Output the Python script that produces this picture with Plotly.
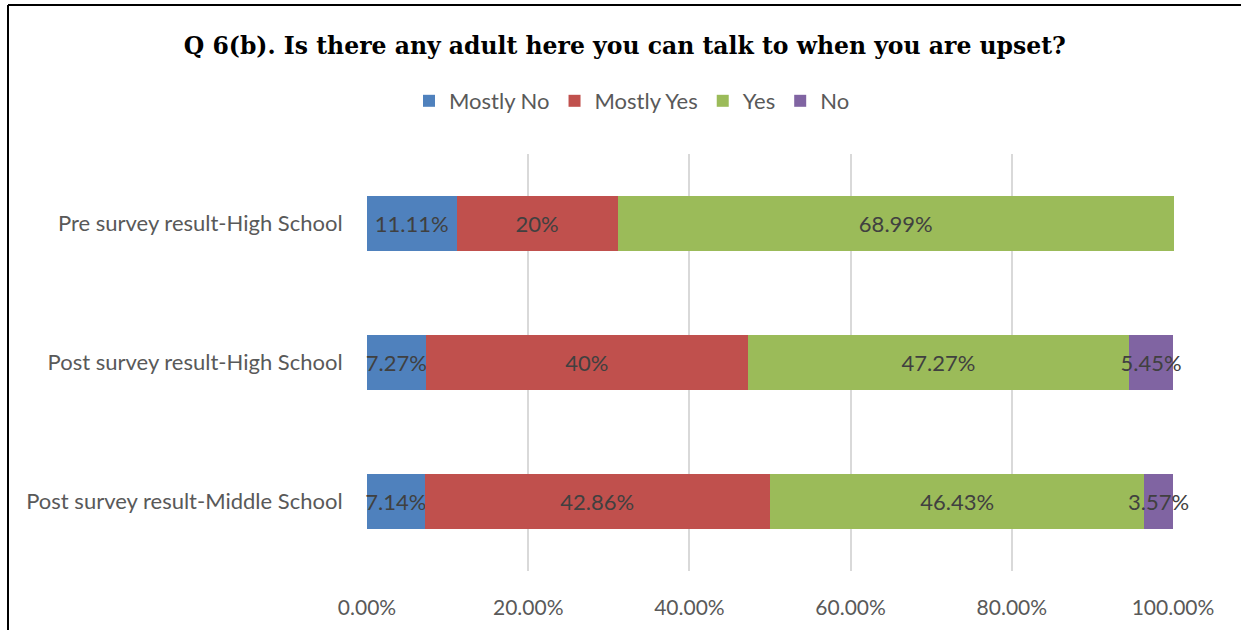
import plotly.graph_objects as go

categories = ["Pre survey result-High School", "Post survey result-High School", "Post survey result-Middle School"]
series_names = ["Mostly No", "Mostly Yes", "Yes", "No"]
mostly_no = [11.11, 7.27, 7.14]
mostly_yes = [20, 40, 42.86]
yes = [68.99, 47.27, 46.43]
no = [0, 5.45, 3.57]
colors = ["#4F81BD", "#C0504D", "#9BBB59", "#8064A2"]
tick_vals = [0, 20, 40, 60, 80, 100]
tick_text = ["0.00%", "20.00%", "40.00%", "60.00%", "80.00%", "100.00%"]

W, H = 1241, 630
L, R, T, B = 367, 67, 154, 59
body_font = "Lato, Open Sans, sans-serif"

fig = go.Figure()
for name, vals, col in zip(series_names, [mostly_no, mostly_yes, yes, no], colors):
    txt = [(f"{v:g}%" if v > 0 else "") for v in vals]
    fig.add_trace(go.Bar(
        y=categories, x=vals, name=name, orientation="h",
        marker=dict(color=col, line=dict(width=0)),
        text=txt, textposition="inside", insidetextanchor="middle",
        textangle=0, constraintext="none", cliponaxis=False,
        textfont=dict(family=body_font, size=22, color="#404040"),
        hoverinfo="skip",
    ))

pw = W - L - R
ph = H - T - B
fx = lambda px: (px - L) / pw
fy = lambda py: (H - B - py) / ph

fig.update_layout(
    width=W, height=H,
    barmode="stack", bargap=0.6,
    margin=dict(l=L, r=R, t=T, b=B),
    paper_bgcolor="white", plot_bgcolor="white",
    title=dict(text="<b>Q 6(b). Is there any adult here you can talk to when you are upset?</b>",
               x=0.5035, xanchor="center", y=1 - 46 / H, yanchor="middle",
               font=dict(family="DejaVu Serif", size=23.5, color="#000000")),
    legend=dict(orientation="h", x=fx(632), xanchor="center", y=fy(101), yanchor="middle",
                font=dict(family=body_font, size=22, color="#595959"),
                traceorder="normal", itemwidth=30),
    showlegend=True,
    xaxis=dict(range=[0, 100.12], tickvals=tick_vals, ticktext=tick_text,
               showgrid=True, gridcolor="#D9D9D9", gridwidth=1.5, zeroline=False,
               showline=False, ticks="outside", ticklen=18, tickcolor="rgba(0,0,0,0)",
               tickfont=dict(family=body_font, size=21, color="#595959"), fixedrange=True),
    yaxis=dict(categoryorder="array", categoryarray=categories[::-1],
               showgrid=False, showline=False, ticks="outside", ticklen=19,
               tickcolor="rgba(0,0,0,0)",
               tickfont=dict(family=body_font, size=22, color="#595959"), fixedrange=True),
    shapes=[
        dict(type="line", xref="paper", yref="paper", x0=fx(8), x1=fx(8), y0=fy(5), y1=fy(640),
             line=dict(color="black", width=2)),
        dict(type="line", xref="paper", yref="paper", x0=fx(8), x1=fx(1250), y0=fy(5), y1=fy(5),
             line=dict(color="black", width=2)),
    ],
)

fig.write_html("out.html", config={"displayModeBar": False},
               post_script="document.body.style.margin='0';")
